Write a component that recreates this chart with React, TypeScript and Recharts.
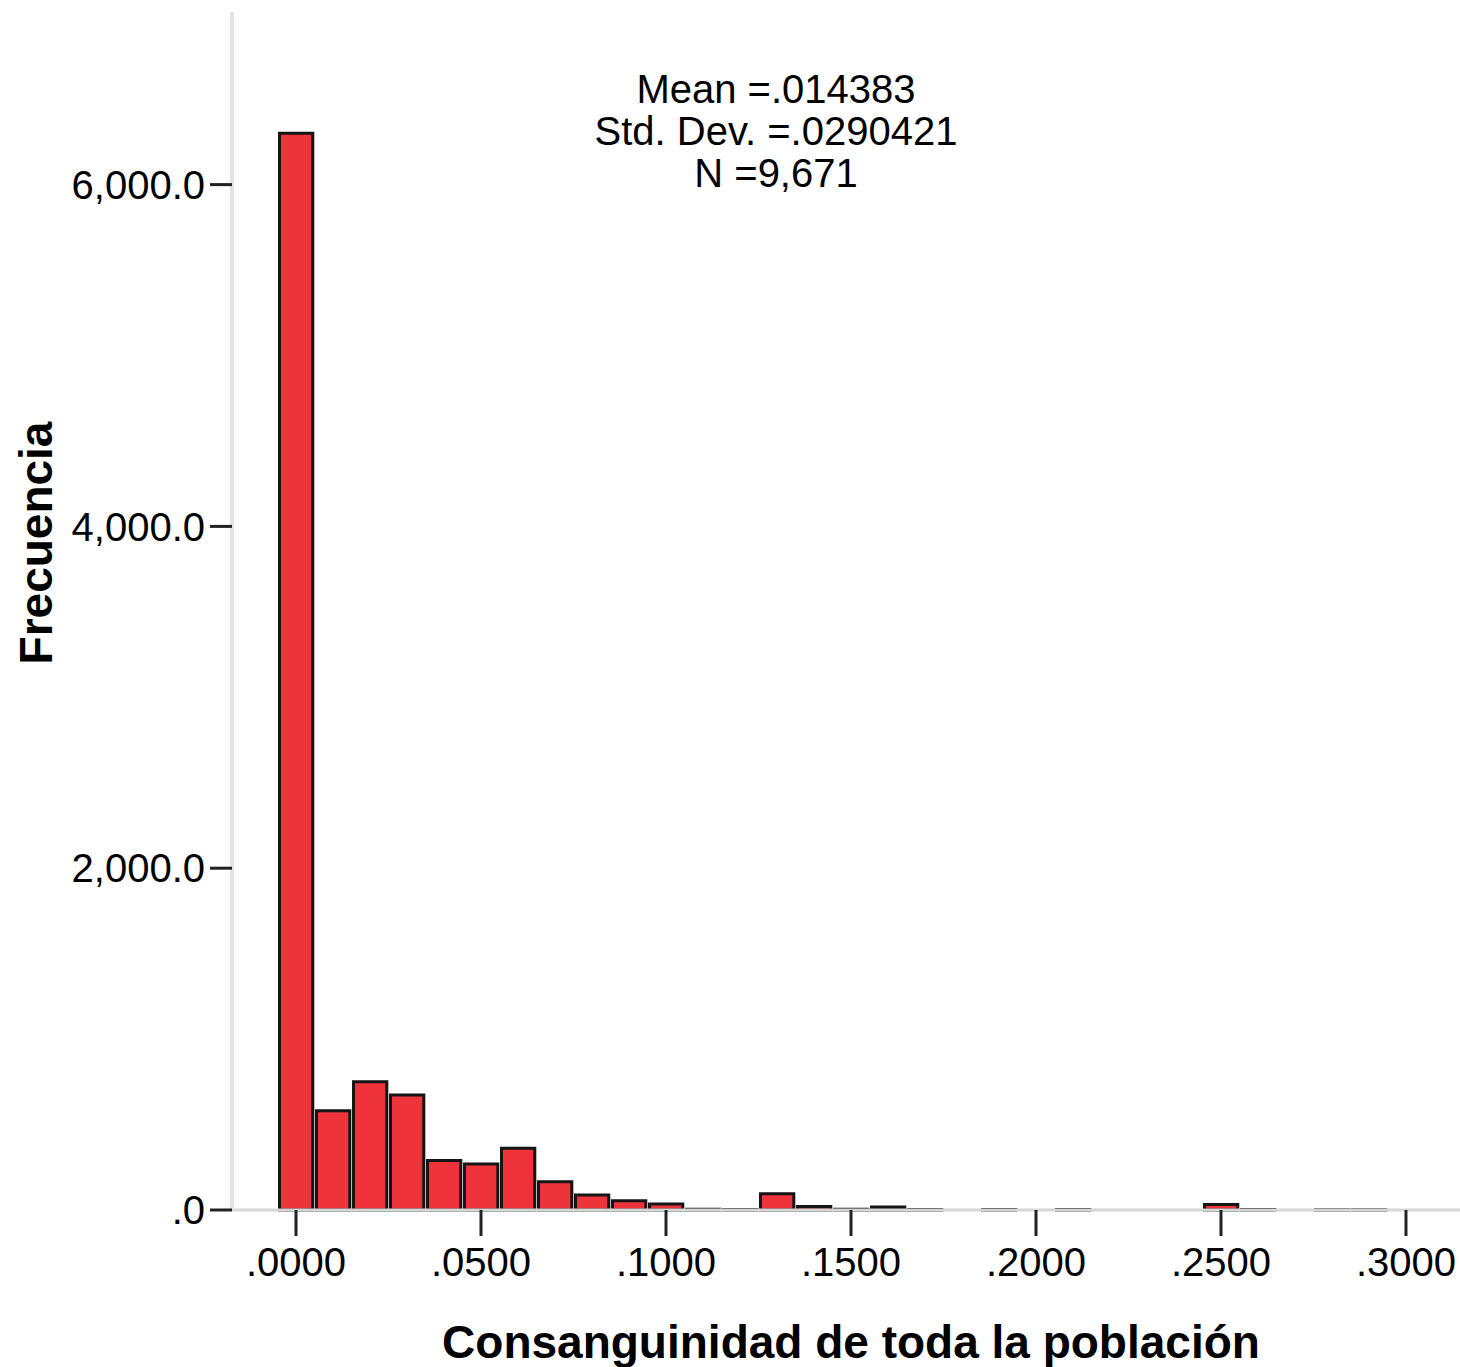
import { BarChart, Bar, XAxis, YAxis } from "recharts"

// bin centres (width .01) and frequencies
const binCenters = [
  0, 0.01, 0.02, 0.03, 0.04, 0.05, 0.06, 0.07, 0.08, 0.09, 0.1,
  0.11, 0.12, 0.13, 0.14, 0.15, 0.16, 0.17, 0.18, 0.19, 0.2,
  0.21, 0.22, 0.23, 0.24, 0.25, 0.26, 0.27, 0.28, 0.29, 0.3,
]
const frecuencia = [
  6300, 581, 751, 673, 289, 269, 361, 166, 88, 54, 35,
  4, 3, 95, 20, 4, 18, 3, 0, 3, 0,
  3, 0, 0, 0, 32, 3, 0, 2, 2, 0,
]
const xTicks = [0, 0.05, 0.1, 0.15, 0.2, 0.25, 0.3]
const yTicks = [0, 2000, 4000, 6000]
const statLines = ["Mean =.014383", "Std. Dev. =.0290421", "N =9,671"]

const data = binCenters.map((x, i) => ({ x, n: frecuencia[i] }))

const font = "'Liberation Sans', Arial, sans-serif"
const fmtX = (v: number) => v.toFixed(4).replace(/^0/, "")
const fmtY = (v: number) =>
  v === 0 ? ".0" : v.toLocaleString("en-US", { minimumFractionDigits: 1, maximumFractionDigits: 1 })

export default function App() {
  return (
    <div style={{ position: "absolute", left: 0, top: 0, width: 1460, height: 1367, background: "#fff" }}>
      <BarChart width={1460} height={1367} data={data} margin={{ top: 12, right: 0, bottom: 0, left: 0 }}>
        <XAxis
          type="number"
          dataKey="x"
          domain={[-0.0173, 0.3146]}
          allowDataOverflow
          ticks={xTicks}
          tickFormatter={fmtX}
          height={157}
          tickSize={26}
          tickMargin={12}
          axisLine={{ stroke: "#d6d6d6", strokeWidth: 3 }}
          tickLine={{ stroke: "#222", strokeWidth: 3 }}
          tick={{ fontSize: 40, fill: "#000", fontFamily: font }}
          label={{
            content: () => (
              <text x={851} y={1358} textAnchor="middle" fontSize={46} fontWeight="bold" fontFamily={font} fill="#000">
                Consanguinidad de toda la población
              </text>
            ),
          }}
        />
        <YAxis
          type="number"
          domain={[0, 7010]}
          ticks={yTicks}
          tickFormatter={fmtY}
          width={232}
          tickSize={22}
          tickMargin={5}
          axisLine={{ stroke: "#e3e3e3", strokeWidth: 4 }}
          tickLine={{ stroke: "#222", strokeWidth: 3 }}
          tick={{ fontSize: 40, fill: "#000", fontFamily: font }}
          label={{
            content: () => (
              <text
                x={52}
                y={543}
                transform="rotate(-90 52 543)"
                textAnchor="middle"
                fontSize={46}
                fontWeight="bold"
                fontFamily={font}
                fill="#000"
              >
                Frecuencia
              </text>
            ),
          }}
        />
        <Bar dataKey="n" barSize={37} fill="#ef333b" stroke="#151515" strokeWidth={3} isAnimationActive={false} />
      </BarChart>
      <div
        style={{
          position: "absolute",
          left: 576,
          top: 68,
          width: 400,
          textAlign: "center",
          fontFamily: font,
          fontSize: 40,
          lineHeight: "42px",
          color: "#000",
        }}
      >
        {statLines.map((s) => (
          <div key={s}>{s}</div>
        ))}
      </div>
    </div>
  )
}
